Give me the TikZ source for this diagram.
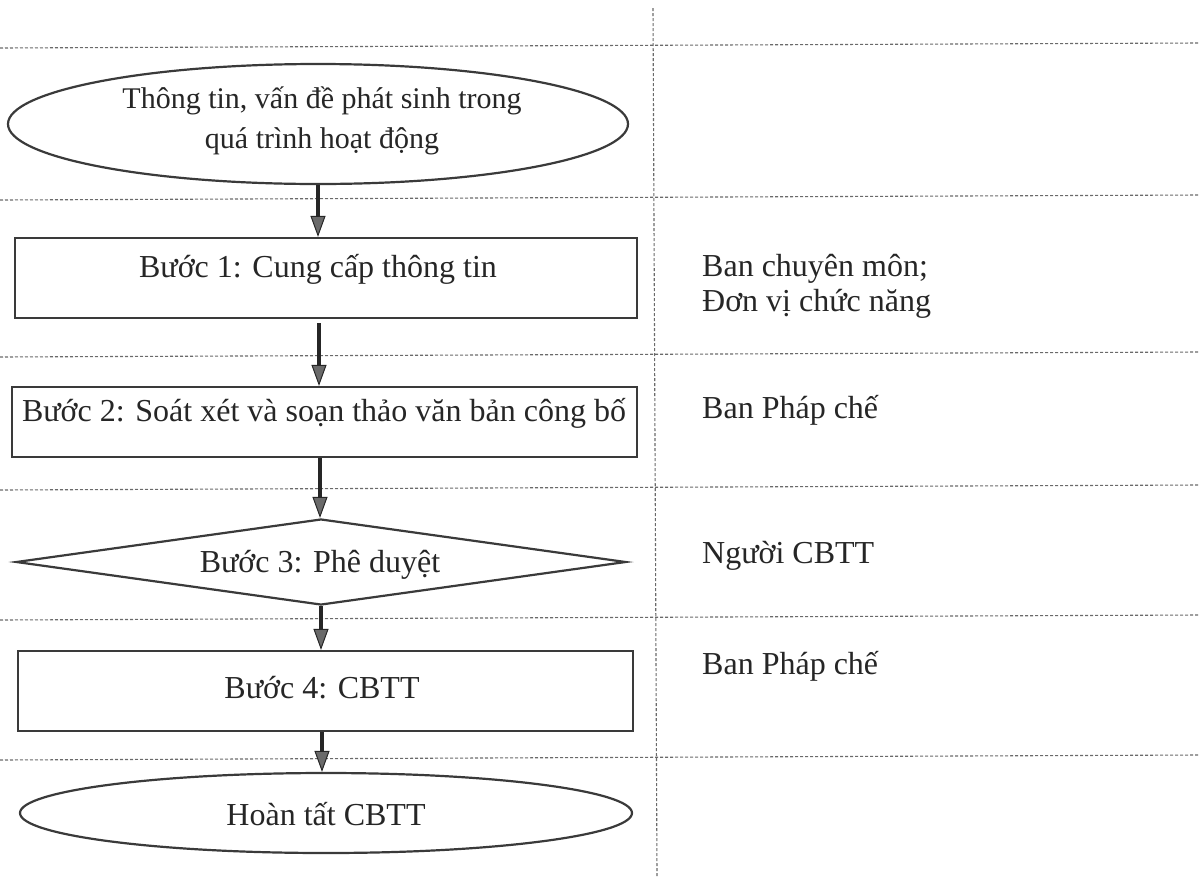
\documentclass[tikz,border=0pt]{standalone}
\usepackage{fontspec}
\setmainfont{Liberation Serif}
\usetikzlibrary{shapes.geometric,arrows.meta}
\definecolor{ink}{HTML}{262626}
\definecolor{edgec}{HTML}{3A3A3A}
\definecolor{dashc}{HTML}{6A6A6A}
\definecolor{headc}{HTML}{6A6A6A}
\begin{document}
\begin{tikzpicture}[x=1pt,y=-1pt,
  shapeline/.style={draw=edgec, line width=2.2pt},
  boxnode/.style={shapeline, rectangle, inner sep=0pt},
  ovalnode/.style={shapeline, ellipse, inner sep=0pt},
  rhomb/.style={shapeline, diamond, inner sep=0pt},
  lbl/.style={text=ink, font=\fontsize{32}{40}\selectfont, inner sep=0pt, align=center},
  side/.style={text=ink, font=\fontsize{32}{35}\selectfont, inner sep=0pt, align=left, anchor=west},
  flow/.style={draw=ink, line width=4pt, -{Triangle[length=21pt,width=15pt,fill=headc,line width=1pt]}},
  sep/.style={draw=dashc, line width=1.1pt, dash pattern=on 3pt off 2pt},
]
\fill[white] (0,0) rectangle (1199,876);
\useasboundingbox (0,0) rectangle (1199,876);

% separators
\draw[sep] (0,48) -- (1199,43);
\draw[sep] (0,200) -- (1199,195);
\draw[sep] (0,357) -- (1199,352);
\draw[sep] (0,490) -- (1199,485);
\draw[sep] (0,620) -- (1199,615);
\draw[sep] (0,760) -- (1199,755);
\draw[sep] (653,8) -- (657,876);

% shapes
\node[ovalnode, minimum width=620pt, minimum height=120pt] (e1) at (318,124) {};
\node[lbl, font=\fontsize{30}{40}\selectfont] (e1t) at (322,121) {Thông tin, vấn đề phát sinh trong\\quá trình hoạt động};

\node[boxnode, minimum width=622pt, minimum height=80pt] (r1) at (326,278) {};
\node[lbl] (r1t) at (318,269) {Bước 1: Cung cấp thông tin};

\node[boxnode, minimum width=625pt, minimum height=70pt] (r2) at (324.5,422) {};
\node[lbl] (r2t) at (324,413) {Bước 2: Soát xét và soạn thảo văn bản công bố};

\node[rhomb, minimum width=610pt, minimum height=86pt] (d3) at (321,562) {};
\node[lbl] (d3t) at (320,565) {Bước 3: Phê duyệt};

\node[boxnode, minimum width=615pt, minimum height=80pt] (r4) at (325.5,691) {};
\node[lbl] (r4t) at (322,688) {Bước 4: CBTT};

\node[ovalnode, minimum width=612pt, minimum height=80pt] (e2) at (326,813) {};
\node[lbl] (e2t) at (326,814) {Hoàn tất CBTT};

% side labels
\node[side] (s1) at (702,286) {Ban chuyên môn;\\Đơn vị chức năng};
\node[side] (s2) at (702,410) {Ban Pháp chế};
\node[side] (s3) at (702,556) {Người CBTT};
\node[side] (s4) at (702,666) {Ban Pháp chế};

% arrows
\coordinate (a1) at (318,0);
\coordinate (a2) at (319,0);
\coordinate (a3) at (320,0);
\coordinate (a4) at (321,0);
\coordinate (a5) at (322,0);
\draw[flow] (a1 |- e1.south) -- (a1 |- r1.north);
\draw[flow] ([yshift=-4pt]a2 |- r1.south) -- (a2 |- r2.north);
\draw[flow] (a3 |- r2.south) -- (a3 |- d3.north);
\draw[flow] (a4 |- d3.south) -- (a4 |- r4.north);
\draw[flow] (a5 |- r4.south) -- (a5 |- e2.north);
\end{tikzpicture}
\end{document}
